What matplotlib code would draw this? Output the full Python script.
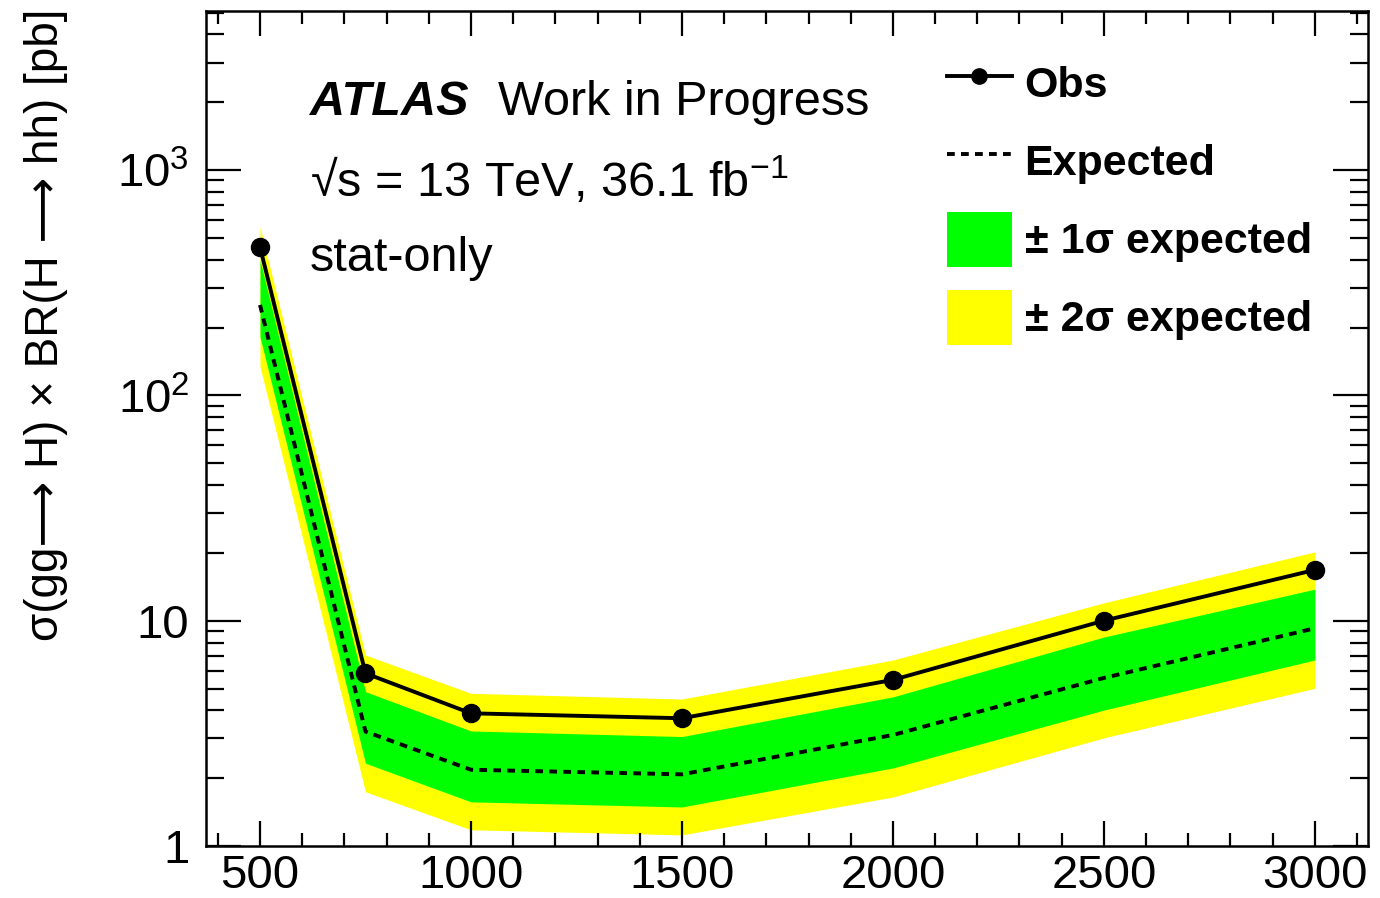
import matplotlib
matplotlib.use("Agg")
import matplotlib.pyplot as plt
from matplotlib.lines import Line2D
from matplotlib.patches import Patch
from matplotlib.ticker import MultipleLocator, FixedLocator, FuncFormatter, LogLocator, NullFormatter

# Helvetica-like look
plt.rcParams["font.family"] = ["Liberation Sans", "DejaVu Sans"]
plt.rcParams["mathtext.fontset"] = "custom"
plt.rcParams["mathtext.rm"] = "Liberation Sans"
plt.rcParams["mathtext.it"] = "Liberation Sans:italic"
plt.rcParams["mathtext.bf"] = "Liberation Sans:bold"

# resonance mass points [GeV]
mass = [500, 750, 1000, 1500, 2000, 2500, 3000]

# 95% CL limits [pb]
obs = [455, 5.84, 3.88, 3.69, 5.46, 10.0, 16.8]
exp = [252, 3.22, 2.18, 2.08, 3.11, 5.57, 9.25]
exp_p1 = [399, 4.84, 3.24, 3.06, 4.59, 8.46, 13.8]
exp_m1 = [182, 2.33, 1.57, 1.49, 2.22, 4.01, 6.69]
exp_p2 = [559, 7.04, 4.76, 4.49, 6.69, 12.0, 20.2]
exp_m2 = [134, 1.74, 1.18, 1.12, 1.65, 3.02, 5.01]

x_ticks = [500, 1000, 1500, 2000, 2500, 3000]
y_ticks = [1, 10, 100, 1000]
y_tick_labels = {1: "1", 10: "10", 100: "$10^{2}$", 1000: "$10^{3}$"}

fig = plt.figure(figsize=(13.8, 8.98), dpi=100)
ax = fig.add_axes([206 / 1380, 52 / 898, 1162 / 1380, 835 / 898])

dash = (0, (2.0, 1.6))
ax.fill_between(mass, exp_m2, exp_p2, color="#ffff00", lw=0, zorder=1)
ax.fill_between(mass, exp_m1, exp_p1, color="#00ff00", lw=0, zorder=2)
ax.plot(mass, exp, color="black", lw=2.8, ls=dash, zorder=3)
ax.plot(mass, obs, color="black", lw=2.8, marker="o", ms=13, zorder=4)

ax.set_yscale("log")
ax.set_xlim(372, 3126)
ax.set_ylim(1, 5080)

ax.xaxis.set_major_locator(FixedLocator(x_ticks))
ax.xaxis.set_minor_locator(MultipleLocator(100))
ax.yaxis.set_major_locator(FixedLocator(y_ticks))
ax.yaxis.set_minor_locator(LogLocator(base=10, subs=range(2, 10), numticks=20))
ax.yaxis.set_major_formatter(FuncFormatter(lambda v, p: y_tick_labels.get(int(round(v)), "")))
ax.yaxis.set_minor_formatter(NullFormatter())

ax.tick_params(axis="both", which="both", direction="in", top=True, right=True, width=1.6)
ax.tick_params(axis="x", which="major", length=18, labelsize=34, pad=6)
ax.tick_params(axis="x", which="minor", length=9.4)
ax.tick_params(axis="y", which="major", length=25, labelsize=34, pad=12)
ax.tick_params(axis="y", which="minor", length=13)
for s in ax.spines.values():
    s.set_linewidth(1.8)

# long arrow glyph comes from DejaVu Sans
fig.text(0.033, 0.99, "σ(gg⟶ H) × BR(H ⟶ hh) [pb]",
         rotation=90, ha="center", va="top", fontsize=33)

# labels
ax.text(0.0895, 0.8754, "ATLAS", transform=ax.transAxes, fontsize=35,
        fontweight="bold", fontstyle="italic", va="baseline")
ax.text(0.2513, 0.8754, "Work in Progress", transform=ax.transAxes, fontsize=35, va="baseline")
ax.text(0.0895, 0.777, "√s = 13 TeV, 36.1 fb$^{-1}$", transform=ax.transAxes,
        fontsize=35, va="baseline")
ax.text(0.0895, 0.6886, "stat-only", transform=ax.transAxes, fontsize=35, va="baseline")

handles = [
    Line2D([], [], color="black", lw=2.8, marker="o", ms=11),
    Line2D([], [], color="black", lw=2.8, ls=dash),
    Patch(facecolor="#00ff00", edgecolor="none"),
    Patch(facecolor="#ffff00", edgecolor="none"),
]
labels = ["Obs", "Expected", "± 1σ expected", "± 2σ expected"]
leg = ax.legend(handles, labels, loc="upper left", bbox_to_anchor=(0.6377, 0.947),
                frameon=False, prop={"size": 31, "weight": "bold"},
                handlelength=1.5, handleheight=1.6, handletextpad=0.3,
                labelspacing=0.53, borderpad=0, borderaxespad=0)

fig.savefig("out.png", dpi=100)
